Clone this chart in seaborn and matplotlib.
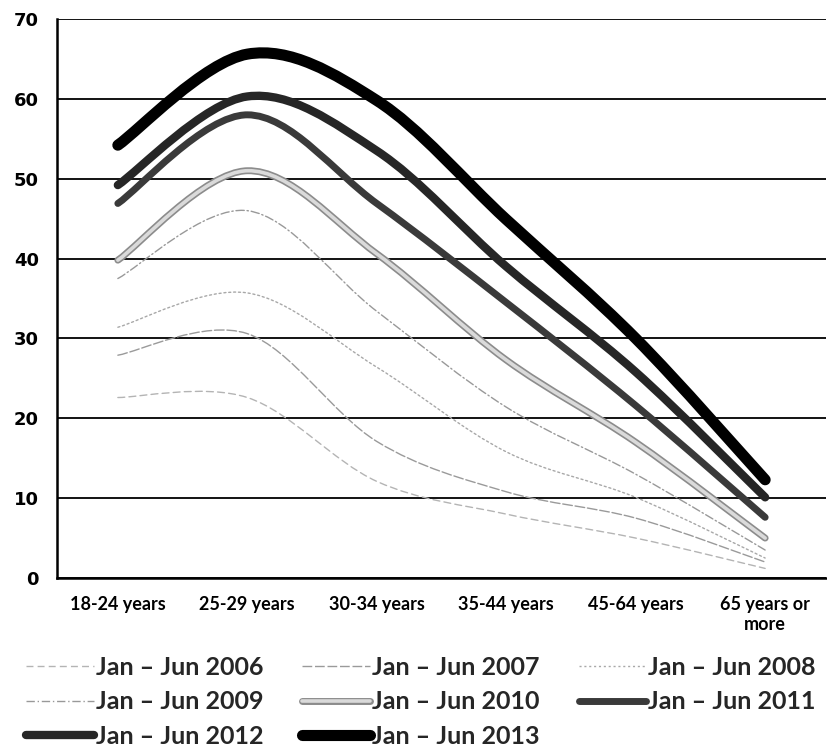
import numpy as np
import pandas as pd
import matplotlib
matplotlib.use("Agg")
import matplotlib.pyplot as plt
import seaborn as sns
from matplotlib.path import Path
from matplotlib.patches import PathPatch
from matplotlib.lines import Line2D
from matplotlib.legend_handler import HandlerTuple

# ---------------- data ----------------
categories = ["18-24 years", "25-29 years", "30-34 years", "35-44 years",
              "45-64 years", "65 years or\nmore"]
periods = ["Jan – Jun 2006", "Jan – Jun 2007", "Jan – Jun 2008", "Jan – Jun 2009",
           "Jan – Jun 2010", "Jan – Jun 2011", "Jan – Jun 2012", "Jan – Jun 2013"]
v2006 = [22.6, 22.6, 12.1, 8.0, 5.0, 1.2]
v2007 = [27.9, 30.6, 17.1, 10.8, 7.5, 2.0]
v2008 = [31.4, 35.7, 26.4, 15.8, 10.1, 2.5]
v2009 = [37.5, 46.0, 33.4, 21.4, 13.0, 3.5]
v2010 = [39.8, 51.0, 40.6, 27.3, 17.0, 5.0]
v2011 = [46.9, 58.0, 46.9, 34.5, 21.6, 7.6]
v2012 = [49.2, 60.3, 53.5, 39.0, 25.8, 10.1]
v2013 = [54.2, 65.6, 59.8, 44.9, 30.0, 12.3]
y_ticks = [0, 10, 20, 30, 40, 50, 60, 70]

series = [v2006, v2007, v2008, v2009, v2010, v2011, v2012, v2013]

rows = []
for p, vals in zip(periods, series):
    for i, (c, v) in enumerate(zip(categories, vals)):
        rows.append({"period": p, "category": c, "pos": i, "value": v})
df = pd.DataFrame(rows)

# ---------------- styles ----------------
styles = {
    "Jan – Jun 2006": dict(color="#b4b4b4", lw=1.0, ls=(0, (5, 3))),
    "Jan – Jun 2007": dict(color="#9a9a9a", lw=1.0, ls=(0, (7, 2))),
    "Jan – Jun 2008": dict(color="#a8a8a8", lw=1.0, ls=(0, (1.5, 2))),
    "Jan – Jun 2009": dict(color="#999999", lw=1.0, ls=(0, (6, 2, 1, 2))),
    "Jan – Jun 2010": dict(color="#8c8c8c", lw=5.0, ls="-", inner="#dadada", inner_lw=2.6),
    "Jan – Jun 2011": dict(color="#3a3a3a", lw=5.0, ls="-"),
    "Jan – Jun 2012": dict(color="#262626", lw=6.0, ls="-"),
    "Jan – Jun 2013": dict(color="#000000", lw=8.0, ls="-"),
}

sns.set_theme(style="white")
plt.rcParams["font.family"] = ["Lato", "DejaVu Sans"]

fig = plt.figure(figsize=(8.27, 7.52), dpi=100)
ax = fig.add_axes([57 / 827, 1 - 578 / 752, (826 - 57) / 827, (578 - 19) / 752])


def smooth_path(x, y):
    """Excel-style smoothed line: cubic Bezier segments through the data points."""
    x = np.asarray(x, float)
    y = np.asarray(y, float)
    pts = np.column_stack([x, y])
    n = len(pts)
    verts = [pts[0]]
    codes = [Path.MOVETO]
    for i in range(n - 1):
        p0 = pts[i - 1] if i > 0 else pts[i]
        p1 = pts[i]
        p2 = pts[i + 1]
        p3 = pts[i + 2] if i + 2 < n else pts[i + 1]
        c1 = p1 + (p2 - p0) / 6.0
        c2 = p2 - (p3 - p1) / 6.0
        verts += [c1, c2, p2]
        codes += [Path.CURVE4] * 3
    return Path(verts, codes)


for p in periods:
    st = styles[p]
    sub = df[df["period"] == p]
    sns.lineplot(data=sub, x="pos", y="value", ax=ax, color=st["color"],
                 estimator=None, sort=False, legend=False)
    line = ax.lines[-1]
    xd, yd = line.get_xdata(), line.get_ydata()
    line.set_visible(False)
    path = smooth_path(xd, yd)
    ax.add_patch(PathPatch(path, fill=False, edgecolor=st["color"], lw=st["lw"],
                           linestyle=st["ls"], capstyle="round", joinstyle="round",
                           zorder=3))
    if "inner" in st:
        ax.add_patch(PathPatch(path, fill=False, edgecolor=st["inner"], lw=st["inner_lw"],
                               capstyle="round", joinstyle="round", zorder=3.1))

# ---------------- axes ----------------
ax.set_xlim(-0.47, 5.47)
ax.set_ylim(0, 70)
ax.set_yticks(y_ticks)
ax.set_yticklabels([str(t) for t in y_ticks], fontsize=13, fontweight="bold",
                   family=["DejaVu Sans"])
ax.set_xticks(range(len(categories)))
ax.set_xticklabels(categories, fontsize=13, fontweight="bold")
ax.set_xlabel("")
ax.set_ylabel("")
ax.yaxis.grid(True, color="black", lw=1.3)
ax.xaxis.grid(False)
ax.set_axisbelow(True)
for s in ["top", "right"]:
    ax.spines[s].set_visible(False)
for s in ["left", "bottom"]:
    ax.spines[s].set_color("black")
    ax.spines[s].set_linewidth(1.8)
ax.tick_params(axis="y", length=0, pad=13, colors="black")
ax.tick_params(axis="x", direction="inout", length=8, width=1.5, pad=9, colors="black")

# ---------------- legend ----------------
handles = {}
for p in periods:
    st = styles[p]
    h = Line2D([], [], color=st["color"], lw=st["lw"], linestyle=st["ls"],
               solid_capstyle="round")
    if "inner" in st:
        h = (h, Line2D([], [], color=st["inner"], lw=st["inner_lw"], solid_capstyle="round"))
    handles[p] = h

order = ["Jan – Jun 2006", "Jan – Jun 2009", "Jan – Jun 2012",
         "Jan – Jun 2007", "Jan – Jun 2010", "Jan – Jun 2013",
         "Jan – Jun 2008", "Jan – Jun 2011"]
leg = fig.legend([handles[o] for o in order], order, ncol=3, loc="upper left",
                 bbox_to_anchor=(26 / 827, 1 - 656 / 752), frameon=False,
                 prop=dict(family=["Lato", "DejaVu Sans"], weight="bold", size=18),
                 handlelength=2.7, handletextpad=0.1, columnspacing=1.55,
                 labelspacing=0.45, borderpad=0, borderaxespad=0,
                 handler_map={tuple: HandlerTuple(ndivide=1)})

fig.savefig("out.png", dpi=100, facecolor="white")
